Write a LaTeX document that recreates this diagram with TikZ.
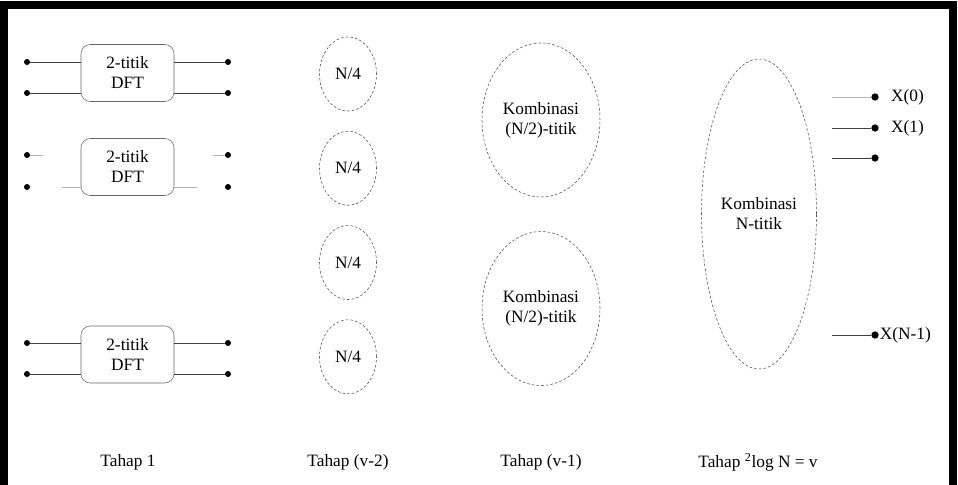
\documentclass[tikz,border=0pt]{standalone}
\usepackage{fontspec}
\newfontfamily\diagfont{Liberation Serif}
\usetikzlibrary{positioning,shapes.geometric}
\tikzset{
dftbox/.style={draw=black!60,rounded corners=7pt,minimum width=69.75pt,minimum height=42.75pt,align=center,inner sep=0pt},
stage/.style={draw=black!70,dash pattern=on 2pt off 1.5pt,ellipse,inner sep=0pt,align=center},
term/.style={circle,fill=black,inner sep=0pt,minimum size=4.5pt},
outterm/.style={circle,fill=black,inner sep=0pt,minimum size=5.5pt},
wire/.style={draw=black!75,line width=0.6pt},
faint/.style={draw=black!30,line width=0.5pt}
}
\begin{document}
\begin{tikzpicture}[x=0.75pt,y=-0.75pt,font=\diagfont\fontsize{13}{15}\selectfont]
\useasboundingbox (0,0) rectangle (958,485);
% frame
\draw[line width=6pt,miter limit=10] (3.5,500) -- (3.5,5.5) -- (952.5,5.5) -- (952.5,500);
% Tahap 1
\node[dftbox](dft1) at (127.5,73){2-titik\\DFT};
\node[dftbox](dft2) at (127.5,167){2-titik\\DFT};
\node[dftbox](dft3) at (127.5,354.5){2-titik\\DFT};
\node[term](i11) at (27,62){};\node[term](i12) at (27,93){};
\node[term](o11) at (228,62){};\node[term](o12) at (228,93){};
\node[term](i21) at (27,155){};\node[term](i22) at (27,187){};
\node[term](o21) at (228,155){};\node[term](o22) at (228,187){};
\node[term](i31) at (27,343){};\node[term](i32) at (27,374){};
\node[term](o31) at (228,343){};\node[term](o32) at (228,374){};
\draw[wire](i11)--(i11-|dft1.west);\draw[wire](i12)--(i12-|dft1.west);
\draw[wire](o11-|dft1.east)--(o11);\draw[wire](o12-|dft1.east)--(o12);
\draw[faint,shorten >=28.5pt](i21)--(i21-|dft2.west);\draw[faint,shorten <=24pt](i22)--(i22-|dft2.west);
\draw[faint,shorten <=29.25pt](o21-|dft2.east)--(o21);\draw[faint,shorten >=21pt](o22-|dft2.east)--(o22);
\draw[wire](i31)--(i31-|dft3.west);\draw[wire](i32)--(i32-|dft3.west);
\draw[wire](o31-|dft3.east)--(o31);\draw[wire](o32-|dft3.east)--(o32);
% Tahap (v-2)
\node[stage,minimum width=42.75pt,minimum height=55.5pt](q1) at (348,74){N/4};
\node[stage,minimum width=42.75pt,minimum height=55.5pt,below=14.8pt of q1](q2){N/4};
\node[stage,minimum width=42.75pt,minimum height=55.5pt,below=14.8pt of q2](q3){N/4};
\node[stage,minimum width=42.75pt,minimum height=55.5pt,below=14.8pt of q3](q4){N/4};
% Tahap (v-1)
\node[stage,minimum width=88.5pt,minimum height=115.5pt](h1) at (541,120){Kombinasi\\(N/2)-titik};
\node[stage,minimum width=88.5pt,minimum height=115.5pt,below=25.5pt of h1](h2){Kombinasi\\(N/2)-titik};
% Tahap v
\node[stage,minimum width=86.25pt,minimum height=232.5pt](full) at (759,214){Kombinasi\\N-titik};
\node[outterm](x0) at (875,97){};\node[outterm](x1) at (875,128){};
\node[outterm](x2) at (875,158){};\node[outterm](xn) at (875,335){};
\draw[faint,shorten <=11.25pt](full.east|-x0)--(x0);
\draw[wire,shorten <=11.25pt](full.east|-x1)--(x1);
\draw[wire,shorten <=11.25pt](full.east|-x2)--(x2);
\draw[wire,shorten <=11.25pt](full.east|-xn)--(xn);
\node[right=9pt of x0,inner sep=0pt](lx0){X(0)};
\node[right=9pt of x1,inner sep=0pt](lx1){X(1)};
\node[right=0.5pt of xn,inner sep=0pt](lxn){X(N-1)};
% labels
\node(t1) at (128,462){Tahap 1};
\node(t2) at (348,462){Tahap (v-2)};
\node(t3) at (541,462){Tahap (v-1)};
\node(t4) at (758,462){Tahap \textsuperscript{2}log N = v};
\end{tikzpicture}
\end{document}
